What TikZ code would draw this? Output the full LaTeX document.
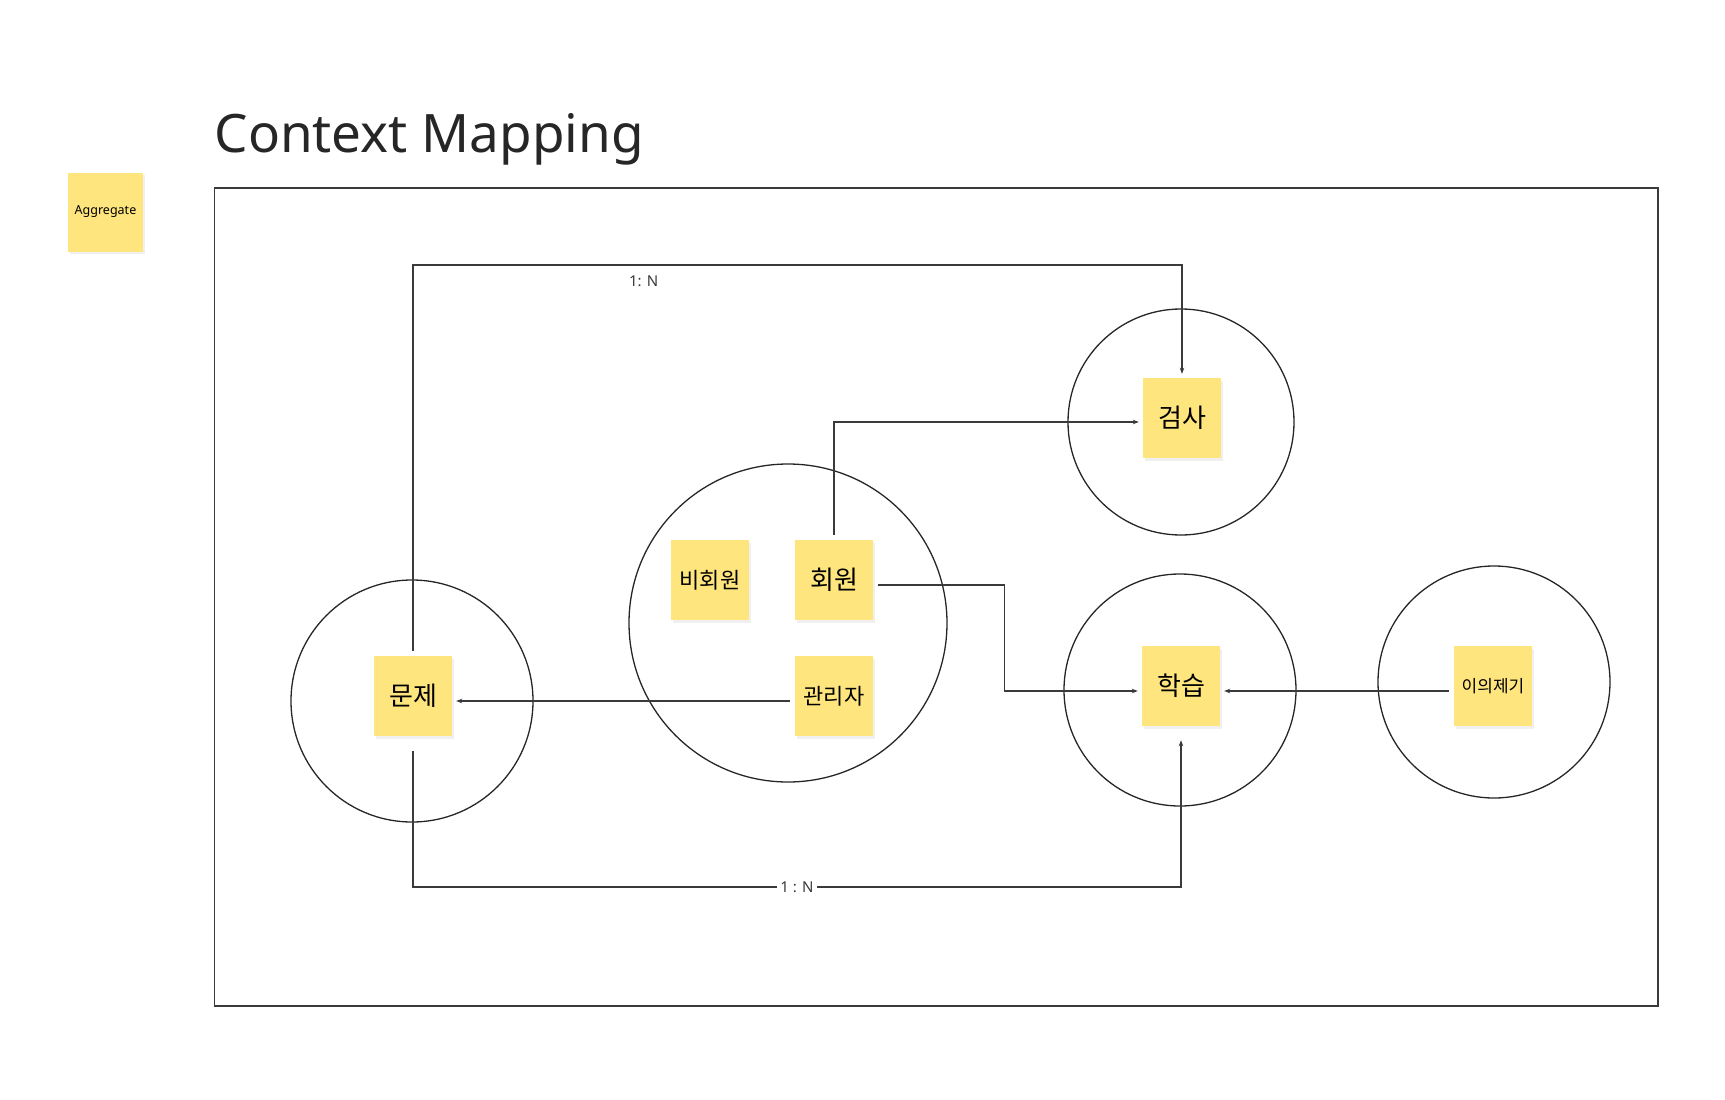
\documentclass[tikz,border=0pt]{standalone}
\usepackage{fontspec}
\setmainfont{Noto Sans}
\newfontfamily\kr{Noto Sans CJK KR}
\usetikzlibrary{arrows.meta,shadows}
\definecolor{sticky}{HTML}{FEE57E}
\definecolor{ink}{HTML}{3A3A3A}

\begin{document}
\begin{tikzpicture}[x=1pt,y=-1pt,
  note/.style={fill=sticky, minimum width=78pt, minimum height=80pt, inner sep=0pt,
    drop shadow={opacity=0.12, shadow xshift=1.5pt, shadow yshift=-2.5pt}},
  ctx/.style={draw=black!85, line width=1.3pt, circle, inner sep=0pt},
  link/.style={draw=ink, line width=1.2pt, -{Stealth[length=6pt,width=4.5pt]}, shorten >=4pt, shorten <=5pt},
  lbl/.style={font=\fontsize{15}{18}\selectfont, text=ink}]
  \useasboundingbox (0,0) rectangle (1725,1100);

  \node[anchor=base west, font=\fontsize{53}{60}\selectfont, text=black!85] (title) at (211,152) {Context Mapping};
  \node[note, minimum width=75pt, minimum height=79pt, font=\fontsize{12.5}{14}\selectfont] (legend) at (105.5,212) {Aggregate};
  \draw[draw=ink, line width=1.5pt] (214.5,188) rectangle (1658,1006);

  \node[ctx, minimum size=242pt] (cMunje) at (412,701) {};
  \node[ctx, minimum size=318pt] (cMember) at (788,623) {};
  \node[ctx, minimum size=226pt] (cGeomsa) at (1181,422) {};
  \node[ctx, minimum size=232pt] (cHakseup) at (1180,690) {};
  \node[ctx, minimum size=232pt] (cAppeal) at (1494,682) {};

  \node[note, font=\kr\fontsize{26}{30}\selectfont] (munje) at (413,696) {문제};
  \node[note, font=\kr\fontsize{22}{26}\selectfont] (guest) at (710,580) {비회원};
  \node[note, font=\kr\fontsize{26}{30}\selectfont] (member) at (834,580) {회원};
  \node[note, font=\kr\fontsize{22}{26}\selectfont] (admin) at (834,696) {관리자};
  \node[note, font=\kr\fontsize{26}{30}\selectfont] (geomsa) at (1182,418) {검사};
  \node[note, font=\kr\fontsize{26}{30}\selectfont] (hakseup) at (1181,686) {학습};
  \node[note, font=\kr\fontsize{17}{20}\selectfont] (appeal) at (1493,686) {이의제기};

  \draw[link] (munje.north) -- (munje.north |- 0,265) -- node[lbl, pos=0.3, below=7pt] {1: N} (geomsa.north |- 0,265) -- (geomsa.north);
  \draw[link] (member.north) |- ([yshift=-4pt]geomsa.west);
  \draw[link] ([yshift=-5pt]member.east) -- ++(131,0) |- ([yshift=-5pt]hakseup.west);
  \draw[link] ([yshift=-5pt]admin.west) -- ([yshift=-5pt]munje.east);
  \draw[link] ([yshift=-5pt]appeal.west) -- ([yshift=-5pt]hakseup.east);
  \draw[link, shorten <=15pt, shorten >=14pt] (munje.south) -- (munje.south |- 0,887) -- node[lbl, fill=white, inner sep=3pt] {1 : N} (hakseup.south |- 0,887) -- (hakseup.south);
\end{tikzpicture}
\end{document}
